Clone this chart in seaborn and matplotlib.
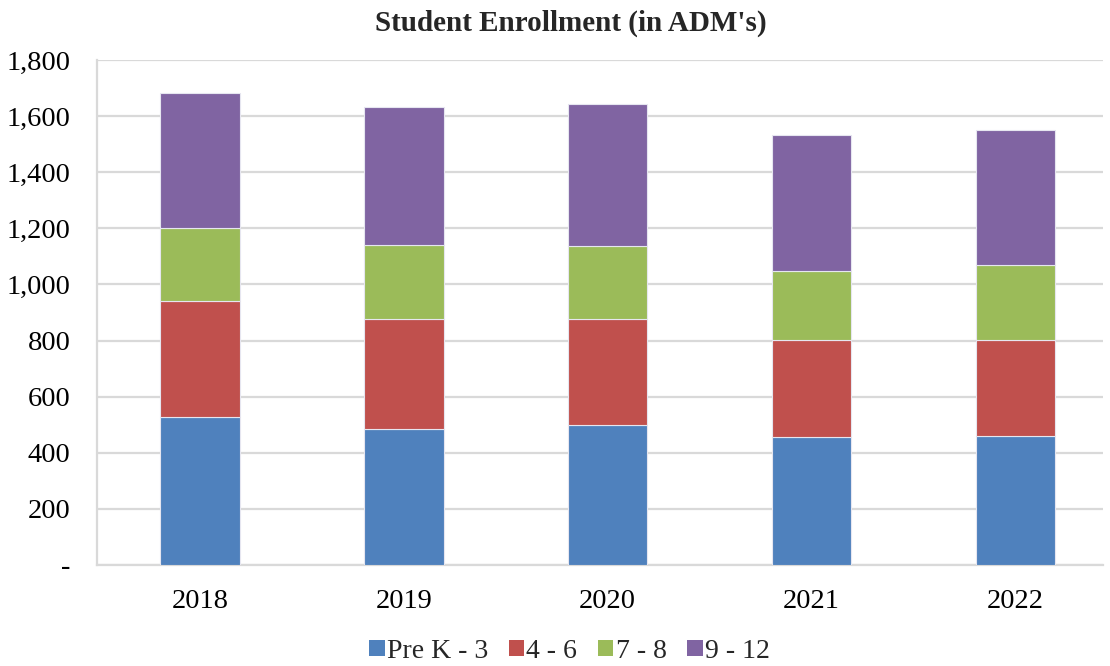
import matplotlib
matplotlib.use("Agg")
import matplotlib.pyplot as plt
from matplotlib.patches import Patch
from matplotlib.ticker import FuncFormatter
import numpy as np
import seaborn as sns

years = ["2018", "2019", "2020", "2021", "2022"]
grades = ["Pre K - 3", "4 - 6", "7 - 8", "9 - 12"]
pre_k_3 = [529, 485, 498, 456, 461]
g4_6 = [411, 391, 378, 347, 342]
g7_8 = [262, 263, 262, 244, 268]
g9_12 = [482, 495, 505, 484, 478]
colors = ["#4F81BD", "#C0504D", "#9BBB59", "#8064A2"]

sns.set_theme(style="white")
plt.rcParams["font.family"] = ["Liberation Serif", "DejaVu Serif"]

fig = plt.figure(figsize=(11.1, 6.66), dpi=100)
ax = fig.add_axes([0.0874, 0.1517, 0.9063, 0.7582])

series = [pre_k_3, g4_6, g7_8, g9_12]
bottom = np.zeros(len(years))
for name, vals, col in zip(grades, series, colors):
    sns.barplot(x=years, y=vals, bottom=bottom, color=col, width=0.39,
                edgecolor="#e6e6f0", linewidth=0.8, saturation=1, ax=ax,
                zorder=3)
    bottom = bottom + np.array(vals)

ax.set_ylim(0, 1800)
ax.set_xlim(-0.505, 4.43)
ax.set_yticks(np.arange(0, 1801, 200))
ax.yaxis.set_major_formatter(FuncFormatter(lambda v, p: "-" if v == 0 else f"{int(v):,}"))
ax.grid(axis="y", color="#d9d9d9", linewidth=1.6, zorder=0)
ax.set_axisbelow(True)
for s in ["top", "right"]:
    ax.spines[s].set_visible(False)
for s in ["left", "bottom"]:
    ax.spines[s].set_color("#d9d9d9")
    ax.spines[s].set_linewidth(1.6)
ax.tick_params(axis="both", labelsize=20.5, colors="black", length=0)
ax.tick_params(axis="x", pad=17)
ax.tick_params(axis="y", pad=19)
ax.set_xlabel("")
ax.set_ylabel("")

fig.suptitle("Student Enrollment (in ADM's)", fontsize=21, fontweight="bold",
             x=0.514, y=0.985, va="top")

handles = [Patch(facecolor=c, edgecolor="none") for c in colors]
fig.legend(handles, grades, loc="center", bbox_to_anchor=(0.513, 0.022), ncol=4,
           frameon=False, fontsize=20, handlelength=0.55, handleheight=0.55,
           handletextpad=0.08, columnspacing=0.75)

fig.savefig("out.png", dpi=100)
